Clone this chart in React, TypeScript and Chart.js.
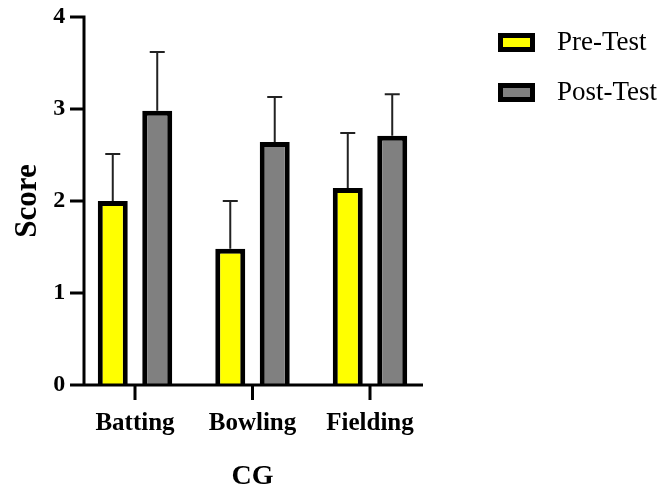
import React, { useEffect, useRef } from 'react';
import { Chart, registerables } from 'chart.js';

Chart.register(...registerables);

const categories = ['Batting', 'Bowling', 'Fielding'];
const seriesNames = ['Pre-Test', 'Post-Test'];
const preTest = [2.0, 1.48, 2.14];
const postTest = [2.98, 2.64, 2.71];
const preTestErr = [0.51, 0.52, 0.6];
const postTestErr = [0.64, 0.49, 0.45];
const yTicks = [0, 1, 2, 3, 4];
const xTitle = 'CG';
const yTitle = 'Score';

const FONT = '"Liberation Serif", "Times New Roman", serif';
const COLORS = ['#FFFF00', '#808080'];

const decorPlugin = {
  id: 'decor',
  afterDatasetsDraw(chart: any) {
    const ctx = chart.ctx;
    const ys = chart.scales.y;
    const xs = chart.scales.x;
    const area = chart.chartArea;
    ctx.save();
    // error bars (upper only)
    chart.data.datasets.forEach((ds: any, di: number) => {
      const meta = chart.getDatasetMeta(di);
      meta.data.forEach((bar: any, i: number) => {
        const topPx = ys.getPixelForValue(ds.data[i] + ds.errors[i]);
        ctx.strokeStyle = '#222';
        ctx.lineWidth = 2;
        ctx.beginPath();
        ctx.moveTo(bar.x, bar.y);
        ctx.lineTo(bar.x, topPx);
        ctx.moveTo(bar.x - 7.5, topPx);
        ctx.lineTo(bar.x + 7.5, topPx);
        ctx.stroke();
      });
    });
    // axes
    const axisX = area.left + 7.75;
    const xEnd = area.right - 5.75;
    const y0 = ys.getPixelForValue(0);
    const yTop = ys.getPixelForValue(yTicks[yTicks.length - 1]);
    ctx.strokeStyle = '#000';
    ctx.lineWidth = 3;
    ctx.lineCap = 'butt';
    ctx.beginPath();
    ctx.moveTo(axisX, yTop - 1.5);
    ctx.lineTo(axisX, y0 + 1.5);
    ctx.moveTo(axisX - 14, y0);
    ctx.lineTo(xEnd, y0);
    yTicks.forEach((t) => {
      const py = ys.getPixelForValue(t);
      ctx.moveTo(axisX - 14, py);
      ctx.lineTo(axisX + 1.5, py);
    });
    categories.forEach((_c, i) => {
      const px = xs.getPixelForValue(i);
      ctx.moveTo(px, y0);
      ctx.lineTo(px, y0 + 15);
    });
    ctx.stroke();
    ctx.restore();
  },
  afterDraw(chart: any) {
    const ctx = chart.ctx;
    ctx.save();
    chart.data.datasets.forEach((ds: any, i: number) => {
      const bx = 498;
      const by = 33 + i * 50;
      ctx.fillStyle = '#000';
      ctx.fillRect(bx, by, 37, 19);
      ctx.fillStyle = ds.backgroundColor;
      ctx.fillRect(bx + 5, by + 5, 27, 9);
      ctx.fillStyle = '#000';
      ctx.font = `27px ${FONT}`;
      ctx.textAlign = 'left';
      ctx.textBaseline = 'middle';
      ctx.fillText(ds.label, 557, by + 10);
    });
    ctx.restore();
  },
};

export default function App() {
  const ref = useRef<HTMLCanvasElement>(null);
  useEffect(() => {
    if (!ref.current) return;
    const chart = new Chart(ref.current, {
      type: 'bar',
      data: {
        labels: categories,
        datasets: [
          {
            label: seriesNames[0],
            data: preTest,
            errors: preTestErr,
            backgroundColor: COLORS[0],
            borderColor: '#000',
            borderWidth: 5,
            categoryPercentage: 0.757,
            barPercentage: 0.674,
          } as any,
          {
            label: seriesNames[1],
            data: postTest,
            errors: postTestErr,
            backgroundColor: COLORS[1],
            borderColor: '#000',
            borderWidth: 5,
            categoryPercentage: 0.757,
            barPercentage: 0.674,
          } as any,
        ],
      },
      options: {
        responsive: false,
        animation: false,
        devicePixelRatio: 1,
        layout: { padding: { left: 0, right: 238.25, top: 17, bottom: 0 } },
        plugins: { legend: { display: false }, tooltip: { enabled: false } },
        scales: {
          x: {
            offset: true,
            grid: { display: false, drawTicks: false },
            border: { display: false },
            ticks: {
              color: '#000',
              padding: 24,
              font: { family: FONT, size: 25, weight: 'bold' },
            },
            title: {
              display: true,
              text: xTitle,
              color: '#000',
              font: { family: FONT, size: 28, weight: 'bold', lineHeight: 1 },
              padding: { top: 0, bottom: 0 },
            },
            afterFit: (s: any) => {
              s.height = 106;
            },
          },
          y: {
            min: 0,
            max: 4,
            grid: { display: false, drawTicks: false },
            border: { display: false },
            ticks: {
              stepSize: 1,
              color: '#000',
              padding: 11,
              font: { family: FONT, size: 24, weight: 'bold', lineHeight: 0.5 },
            },
            title: {
              display: true,
              text: yTitle,
              color: '#000',
              font: { family: FONT, size: 31, weight: 'bold', lineHeight: 1.2 },
              padding: { top: 9, bottom: 0 },
            },
            afterFit: (s: any) => {
              s.width = 76.25;
            },
          },
        },
      },
      plugins: [decorPlugin],
    });
    return () => chart.destroy();
  }, []);
  return (
    <div style={{ position: 'fixed', left: 0, top: 0, width: 667, height: 491, background: '#fff' }}>
      <canvas ref={ref} width={667} height={491} />
    </div>
  );
}
